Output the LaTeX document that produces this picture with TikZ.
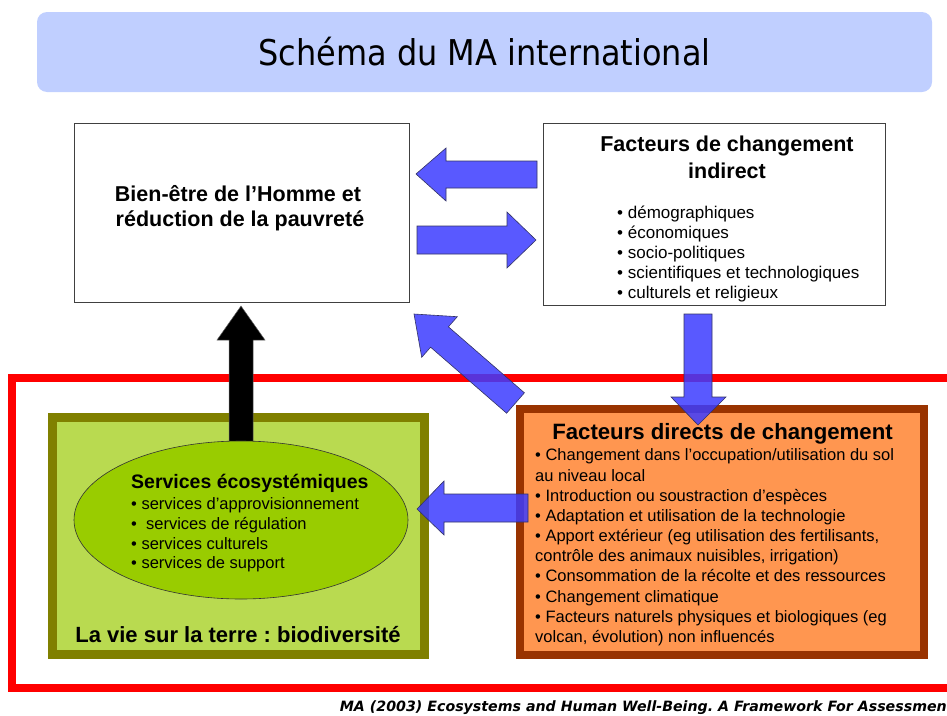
\documentclass[tikz,border=0pt]{standalone}
\usepackage{fontspec}
\setmainfont{Liberation Sans}
\newfontfamily\titlefont{DejaVu Sans Condensed}
\newfontfamily\citefont{DejaVu Sans}
\usetikzlibrary{shapes.geometric}
\frenchspacing
\definecolor{titleblue}{RGB}{192,207,255}
\definecolor{lifegreen}{RGB}{185,218,80}
\definecolor{olivebd}{RGB}{128,128,0}
\definecolor{ellgreen}{RGB}{153,204,0}
\definecolor{orangefill}{RGB}{255,150,80}
\definecolor{orangebd}{RGB}{153,51,0}
\definecolor{arrowblue}{RGB}{60,60,255}
\definecolor{arrowedge}{RGB}{50,50,100}
\tikzset{
  whitebox/.style={draw=black!75, line width=0.8pt, fill=white, inner sep=0pt},
  boxtitle/.style={anchor=base, inner sep=0pt, font=\fontsize{21.5}{24}\selectfont\bfseries},
  itemline/.style={anchor=base west, inner sep=0pt, font=\fontsize{17}{20}\selectfont},
  orangeline/.style={anchor=base west, inner sep=0pt, font=\fontsize{16.5}{19}\selectfont},
  ellline/.style={anchor=base west, inner sep=0pt, font=\fontsize{16.5}{19}\selectfont},
  bluearrow/.style={fill=arrowblue, fill opacity=0.85, draw=arrowedge, line width=0.6pt, line join=miter},
}
\begin{document}
\begin{tikzpicture}[x=1pt,y=-1pt]
\useasboundingbox (0,0) rectangle (947,715);

% title
\node[fill=titleblue, rounded corners=10pt, minimum width=895pt, minimum height=80pt, inner sep=0pt,
      font=\titlefont\fontsize{35.5}{38}\selectfont] (title) at (484.5,52) {Schéma du MA international};

% red frame
\draw[red, line width=7.5pt, line join=miter] (947,378) -- (12,378) -- (12,688) -- (947,688);

% white boxes
\node[whitebox, minimum width=335pt, minimum height=179pt] (bien) at (241.5,212.5) {};
\node[whitebox, minimum width=342pt, minimum height=182pt] (indirect) at (714,214) {};

% green box
\node[draw=olivebd, fill=lifegreen, line width=9pt, inner sep=0pt, minimum width=372pt, minimum height=237pt] (life) at (238.5,536) {};

% black arrow
\draw[fill=black, draw=black!60, line width=0.5pt]
  (241,306) -- (265,340) -- (253,340) -- (253,446) -- (229,446) -- (229,340) -- (217,340) -- cycle;

% ellipse
\node[ellipse, draw=black!80, line width=0.6pt, fill=ellgreen, inner sep=0pt, minimum width=334pt, minimum height=158pt] (services) at (241,520) {};

% orange box
\node[draw=orangebd, fill=orangefill, line width=8pt, inner sep=0pt, minimum width=404pt, minimum height=246pt] (direct) at (722,532) {};

% blue arrows
\draw[bluearrow] (416,174) -- (446,148) -- (446,161) -- (537,161) -- (537,188) -- (446,188) -- (446,201) -- cycle;
\draw[bluearrow] (536,240) -- (507,212) -- (507,226) -- (417,226) -- (417,254) -- (507,254) -- (507,268) -- cycle;
\draw[bluearrow] (698,425) -- (726,397) -- (712,397) -- (712,314) -- (684,314) -- (684,397) -- (671,397) -- cycle;
\draw[bluearrow] (414,314) -- (457.3,316.7) -- (448.4,326.8) -- (524.4,392.8) -- (506.6,413.2) -- (430.6,347.2) -- (421.7,357.3) -- cycle;
\draw[bluearrow] (417,509) -- (444,481) -- (444,494) -- (528,494) -- (528,522) -- (444,522) -- (444,535) -- cycle;

% texts: Bien-etre
\node[boxtitle] (bien1) at (238,201.5) {Bien-être de l’Homme et};
\node[boxtitle] (bien2) at (240,226) {réduction de la pauvreté};

% texts: indirect
\node[boxtitle] (ind1) at (727,151) {Facteurs de changement};
\node[boxtitle] (ind2) at (727,178) {indirect};
\node[itemline] (indA) at (617,218) {• démographiques};
\node[itemline] (indB) at (617,238) {• économiques};
\node[itemline] (indC) at (617,258) {• socio-politiques};
\node[itemline] (indD) at (617,278) {• scientifiques et technologiques};
\node[itemline] (indE) at (617,298) {• culturels et religieux};

% texts: services
\node[anchor=base west, inner sep=0pt, font=\fontsize{19.5}{22}\selectfont\bfseries] (servT) at (131,488) {Services écosystémiques};
\node[ellline] (servA) at (131,509) {• services d’approvisionnement};
\node[ellline] (servB) at (131,529) {•\ \ services de régulation};
\node[ellline] (servC) at (131,549) {• services culturels};
\node[ellline] (servD) at (131,568) {• services de support};
\node[anchor=base, inner sep=0pt, font=\fontsize{22}{24}\selectfont\bfseries] (lifeT) at (238,642) {La vie sur la terre : biodiversité};

% texts: direct
\node[anchor=base, inner sep=0pt, font=\fontsize{22.2}{24}\selectfont\bfseries] (dirT) at (722.5,439.5) {Facteurs directs de changement};
\node[orangeline] (dir1) at (535,460.5) {• Changement dans l’occupation/utilisation du sol};
\node[orangeline] (dir2) at (535,481) {au niveau local};
\node[orangeline] (dir3) at (535,501) {• Introduction ou soustraction d’espèces};
\node[orangeline] (dir4) at (535,521) {• Adaptation et utilisation de la technologie};
\node[orangeline] (dir5) at (535,541) {• Apport extérieur (eg utilisation des fertilisants,};
\node[orangeline] (dir6) at (535,561) {contrôle des animaux nuisibles, irrigation)};
\node[orangeline] (dir7) at (535,581) {• Consommation de la récolte et des ressources};
\node[orangeline] (dir8) at (535,602) {• Changement climatique};
\node[orangeline] (dir9) at (535,622) {• Facteurs naturels physiques et biologiques (eg};
\node[orangeline] (dir10) at (535,642) {volcan, évolution) non influencés};

% citation
\node[anchor=base east, inner sep=0pt, font=\citefont\fontsize{14.2}{16}\selectfont\bfseries\itshape] (cite) at (947,711) {MA (2003) Ecosystems and Human Well-Being. A Framework For Assessmen};
\end{tikzpicture}
\end{document}
